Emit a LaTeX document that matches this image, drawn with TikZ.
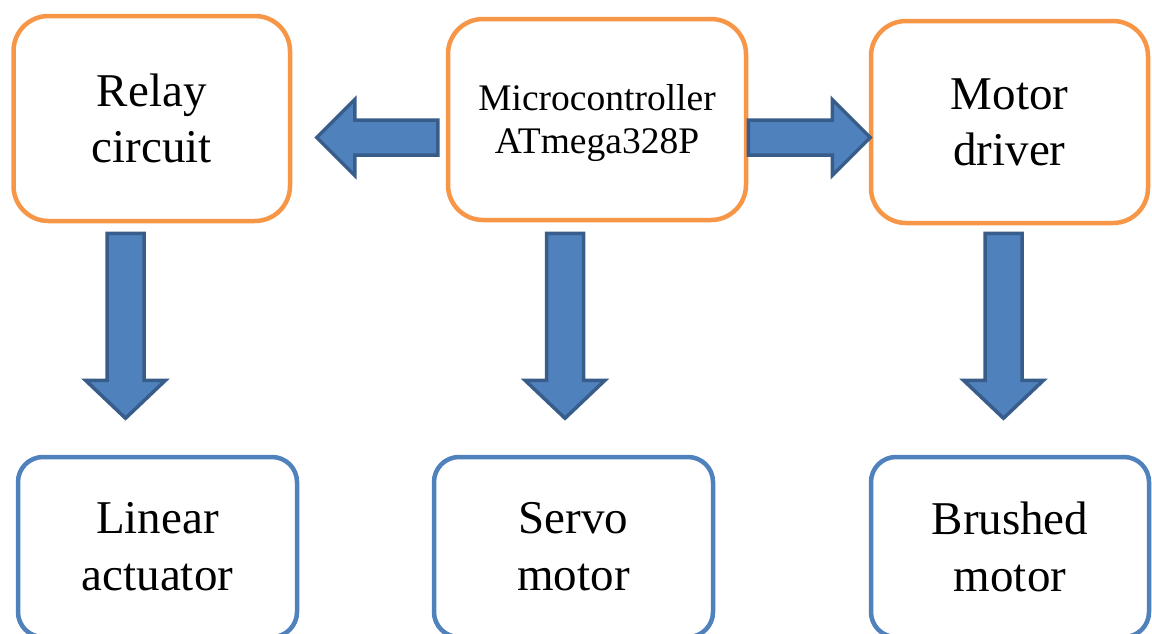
\documentclass[tikz,border=0pt]{standalone}
\usepackage{fontspec}
\setmainfont{Liberation Serif}
\usetikzlibrary{calc}
\definecolor{boxorange}{HTML}{F79646}
\definecolor{boxblue}{HTML}{4F81BD}
\definecolor{arrowfill}{HTML}{4F81BD}
\definecolor{arrowedge}{HTML}{385D8A}
\tikzset{
  unitbox/.style={draw, fill=white, line width=4.5pt, inner sep=0pt, align=center},
  ctrlbox/.style={unitbox, draw=boxorange, rounded corners=35pt,
    font=\fontsize{47}{56}\selectfont},
  loadbox/.style={unitbox, draw=boxblue, rounded corners=25pt,
    font=\fontsize{47}{57}\selectfont},
  arrowbody/.style={fill=arrowfill, draw=arrowedge, line width=3.5pt, line join=miter},
  % #1 = length, #2 = half width of the head, #3 = half width of the shaft
  pics/blockarrow/.style n args={3}{code={
    \draw[arrowbody] (0,-#3) -- (#1-38,-#3) -- (#1-38,-#2) -- (#1,0)
      -- (#1-38,#2) -- (#1-38,#3) -- (0,#3) -- cycle;}}
}
\begin{document}
\begin{tikzpicture}[x=1pt,y=-1pt]
\useasboundingbox (0,0) rectangle (1152,633);
\clip (0,0) rectangle (1152,633);

% control stage
\node[ctrlbox, minimum width=276.5pt, minimum height=205pt] (relay) at (151.75,118.5) {Relay\\circuit};
\node[ctrlbox, minimum width=298pt, minimum height=201pt] (micro) at (597,119.5) {};
\node[align=center, inner sep=0pt, font=\fontsize{37.5}{43}\selectfont]
  (microtext) at ($(micro.center)+(0,4)$) {Microcontroller\\ATmega328P};
\node[ctrlbox, minimum width=277pt, minimum height=202pt] (driver) at (1009.5,122) {Motor\\driver};

% actuators
\node[loadbox, minimum width=279pt, minimum height=180pt] (linear) at (157.5,547) {Linear\\actuator};
\node[loadbox, minimum width=279pt, minimum height=180pt] (servo) at (573.5,547) {Servo\\motor};
\node[loadbox, minimum width=278pt, minimum height=180pt] (brushed) at (1010,547) {Brushed\\motor};

% block arrows between the stages
\coordinate (toRelay) at ($(micro.west)+(-8,18)$);
\coordinate (toDriver) at ($(micro.east)+(0,18)$);
\coordinate (toLinear) at ($(relay.south)+(-26.25,10)$);
\coordinate (toServo) at ($(micro.south)+(-32,11)$);
\coordinate (toBrushed) at ($(driver.south)+(-6,8)$);

\pic[rotate=180] at (toRelay) {blockarrow={121}{38}{17.5}};
\pic at (toDriver) {blockarrow={122}{38}{17.5}};
\pic[rotate=-90] at (toLinear) {blockarrow={185}{40}{18.5}};
\pic[rotate=-90] at (toServo) {blockarrow={185}{40}{18.5}};
\pic[rotate=-90] at (toBrushed) {blockarrow={185}{40}{18.5}};
\end{tikzpicture}
\end{document}
